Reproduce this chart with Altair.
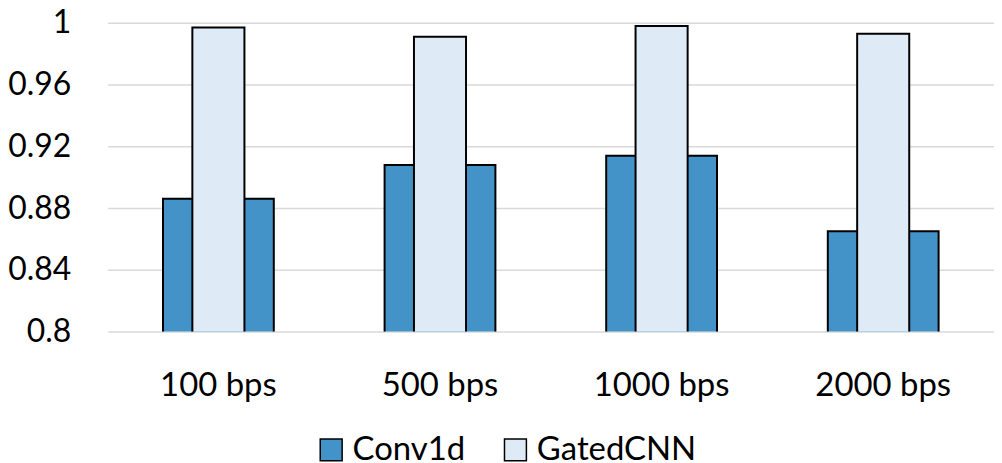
import altair as alt
import pandas as pd

categories = ["100 bps", "500 bps", "1000 bps", "2000 bps"]
conv1d = [0.886, 0.908, 0.914, 0.865]
gated_cnn = [0.997, 0.991, 0.998, 0.993]
series_names = ["Conv1d", "GatedCNN"]
series_colors = ["#4393C8", "#DEEAF6"]
y_ticks = [0.8, 0.84, 0.88, 0.92, 0.96, 1.0]

rows = []
for c, v in zip(categories, conv1d):
    rows.append({"category": c, "series": "Conv1d", "value": v})
for c, v in zip(categories, gated_cnn):
    rows.append({"category": c, "series": "GatedCNN", "value": v})
df = pd.DataFrame(rows)

FONT = "Lato"

x_enc = alt.X(
    "category:N",
    sort=categories,
    scale=alt.Scale(paddingInner=0, paddingOuter=0),
    axis=alt.Axis(
        title=None, labelAngle=0, ticks=False, tickSize=0, domain=False,
        labelPadding=38, labelFontSize=33, labelFont=FONT, labelColor="black",
    ),
)
y_enc = alt.Y(
    "value:Q",
    scale=alt.Scale(domain=[0.8, 1.0], nice=False, zero=False),
    axis=alt.Axis(
        title=None, values=y_ticks, format="~g", ticks=False, tickSize=0,
        domain=False, grid=True, gridColor="#D9D9D9", gridWidth=1.5,
        labelPadding=37, labelFontSize=32, labelFont=FONT, labelColor="black",
    ),
)
color_enc = alt.Color(
    "series:N",
    scale=alt.Scale(domain=series_names, range=series_colors),
    legend=alt.Legend(
        title=None, orient="none", direction="horizontal",
        legendX=208, legendY=412, padding=0,
        symbolType="square", symbolSize=484, symbolStrokeColor="black",
        symbolStrokeWidth=1.5, symbolOpacity=1, labelOffset=5,
        columnPadding=33, labelFontSize=33, labelFont=FONT, labelColor="black",
    ),
)

base = alt.Chart(df)
conv_layer = base.transform_filter(alt.datum.series == "Conv1d").mark_bar(
    width=alt.RelativeBandSize(0.5), stroke="black", strokeWidth=2, opacity=1, clip=True
).encode(x=x_enc, y=y_enc, color=color_enc)
gated_layer = base.transform_filter(alt.datum.series == "GatedCNN").mark_bar(
    width=alt.RelativeBandSize(0.235), stroke="black", strokeWidth=2, opacity=1, clip=True
).encode(x=x_enc, y=y_enc, color=color_enc)

chart = alt.layer(conv_layer, gated_layer).properties(
    width=890, height=310,
    autosize=alt.AutoSizeParams(type="none"),
    padding={"left": 100, "top": 14, "right": 0, "bottom": 136},
).configure_view(stroke=None)

chart.save("out.html", embed_options={"renderer": "svg", "actions": False})
